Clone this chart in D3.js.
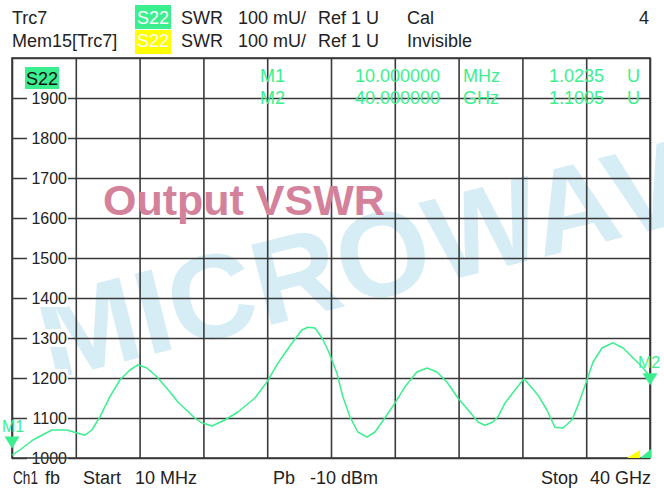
<!DOCTYPE html>
<html><head><meta charset="utf-8">
<script src="https://cdn.jsdelivr.net/npm/d3@7"></script>
<style>
html,body{margin:0;padding:0;background:#fff;}
svg{display:block;font-family:"Liberation Sans",Arial,sans-serif;}
</style></head><body>
<svg id="c" width="664" height="488"></svg>
<script>
// ---- data ----
const freqGHz = [0.01,0.50,1.32,2.51,3.45,4.14,4.58,5.02,5.52,6.14,6.77,7.40,7.90,8.46,9.09,9.91,10.41,11.47,11.91,12.54,13.35,14.17,15.24,15.99,16.68,17.55,18.18,18.56,19.00,19.44,19.81,20.06,20.38,20.75,21.19,21.69,22.26,22.76,23.38,24.01,24.64,25.39,26.02,26.65,27.27,27.96,28.71,29.22,29.65,30.16,30.47,30.91,31.54,32.10,32.60,32.98,33.54,34.04,34.54,35.11,35.49,36.05,36.43,36.99,37.68,38.31,38.94,39.50,40.0];
const swrMU = [1007,1020,1045,1070,1070,1062,1057,1070,1103,1153,1195,1220,1233,1225,1203,1165,1140,1100,1088,1080,1095,1115,1150,1190,1237,1287,1320,1327,1325,1300,1270,1245,1212,1153,1103,1065,1052,1065,1100,1137,1178,1215,1225,1215,1190,1150,1115,1090,1082,1090,1103,1137,1170,1198,1175,1157,1120,1077,1075,1095,1132,1195,1240,1275,1288,1275,1250,1228,1203];
const yTicks = [1000,1100,1200,1300,1400,1500,1600,1700,1800,1900];
const xDivisions = [0,1,2,3,4,5,6,7,8,9,10];
const header1 = ["Trc7","S22","SWR","100 mU/","Ref 1 U","Cal","4"];
const header2 = ["Mem15[Trc7]","S22","SWR","100 mU/","Ref 1 U","Invisible"];
const markerNames = ["M1","M2"];
const markerFreqText = ["10.000000","40.000000"];
const markerUnit = ["MHz","GHz"];
const markerValText = ["1.0235","1.1005"];
const markerFreq = [0.01,40];
const markerLevel = [1023.5,1182];
const footer = ["Ch1","fb","Start","10 MHz","Pb","-10 dBm","Stop","40 GHz"];
const titleText = "Output VSWR";
const watermark = "MICROWAVE";

// ---- layout ----
const svg = d3.select("#c");
const L = 12, R = 650, T = 58, B = 458;
const x = d3.scaleLinear().domain([0.01,40]).range([L,R]);
const y = d3.scaleLinear().domain([1000,2000]).range([B,T]);
const green = "#3cef8e", yellow = "#ffff00", grid = "#3a3a3a";

svg.append("rect").attr("width",664).attr("height",488).attr("fill","#fff");

// watermark
const wm = svg.append("g").attr("fill","#d6edf6").attr("font-weight","bold").attr("font-size",120);
wm.append("text").attr("transform","translate(50,380) rotate(-14)").text(watermark);
wm.append("text").attr("transform","translate(8,392) rotate(-14)").attr("text-anchor","end").text("S");

// grid
const xStep = (40-0.01)/10;
const xAxis = d3.axisBottom(x).tickValues(xDivisions.map(i=>0.01+i*xStep)).tickSize(-(B-T)).tickFormat("");
const gx = svg.append("g").attr("transform",`translate(0,${B})`).call(xAxis);
const yAxis = d3.axisLeft(y).tickValues(yTicks.concat([2000])).tickSize(-(R-L)).tickFormat("");
const gy = svg.append("g").attr("transform",`translate(${L},0)`).call(yAxis);
[gx,gy].forEach(g=>{
  g.select(".domain").remove();
  g.selectAll("line").attr("stroke",grid).attr("stroke-width",1.6);
});

// y labels with white background
const lab = svg.append("g").attr("font-size",16).attr("fill","#222");
yTicks.forEach(v=>{
  lab.append("rect").attr("x",27).attr("y",y(v)-9).attr("width",41).attr("height",18).attr("fill","#fff");
  lab.append("text").attr("x",67).attr("y",y(v)+6).attr("text-anchor","end").text(v);
});
svg.append("rect").attr("x",L).attr("y",T).attr("width",R-L).attr("height",B-T)
  .attr("fill","none").attr("stroke",grid).attr("stroke-width",1.6);

// S22 tag in plot
svg.append("rect").attr("x",25).attr("y",67).attr("width",34).attr("height",22).attr("fill",green);
svg.append("text").attr("x",26).attr("y",85).attr("font-size",18).attr("fill","#111").text("S22");

// title
svg.append("text").attr("x",103).attr("y",215).attr("font-size",43).attr("font-weight","bold")
  .attr("fill","#d4829b").text(titleText);

// marker readout
const mk = svg.append("g").attr("font-size",18).attr("fill",green);
markerNames.forEach((n,i)=>{
  const by = 82 + i*21.5;
  mk.append("text").attr("x",260).attr("y",by).text(n);
  mk.append("text").attr("x",440).attr("y",by).attr("text-anchor","end").text(markerFreqText[i]);
  mk.append("text").attr("x",463).attr("y",by).text(markerUnit[i]);
  mk.append("text").attr("x",604).attr("y",by).attr("text-anchor","end").text(markerValText[i]);
  mk.append("text").attr("x",627).attr("y",by).text("U");
});

// trace
const line = d3.line().x((d,i)=>x(freqGHz[i])).y(d=>y(d));
svg.append("path").datum(swrMU).attr("d",line).attr("fill","none")
  .attr("stroke",green).attr("stroke-width",1.5).attr("stroke-linejoin","round");

// marker triangles
markerNames.forEach((n,i)=>{
  const mx = x(markerFreq[i]), my = y(markerLevel[i]);
  svg.append("path").attr("d",`M${mx-7.5},${my-12}L${mx+7.5},${my-12}L${mx},${my}Z`).attr("fill",green);
  svg.append("text").attr("x",i===0?mx+1:mx-12).attr("y",my-17).attr("font-size",16)
    .attr("fill",green).attr("text-anchor",i===0?"middle":"start").text(n);
});

// small corner indicators
svg.append("path").attr("d",`M627,${B}L640,${B-8}L640,${B}Z`).attr("fill",yellow);
svg.append("path").attr("d",`M640,${B}L651,${B-9}L651,${B}Z`).attr("fill",green);

// header
const hx = [12,null,181,238,318,407];
[0,1].forEach(r=>{
  svg.append("rect").attr("x",135).attr("y",5+r*25).attr("width",36).attr("height",24).attr("fill",r===0?green:yellow);
});
const h = svg.append("g").attr("font-size",18).attr("fill","#222");
[header1,header2].forEach((row,r)=>{
  const by = 24 + r*23;
  row.forEach((t,i)=>{
    if(i===1){ h.append("text").attr("x",137).attr("y",by).attr("fill","#fff").text(t); return; }
    if(i===6){ h.append("text").attr("x",649).attr("y",by).attr("text-anchor","end").text(t); return; }
    h.append("text").attr("x",hx[i]).attr("y",by).text(t);
  });
});

// footer
const f = svg.append("g").attr("font-size",18).attr("fill","#222");
const fx = [13,45,83,135,273,310,541,590];
footer.forEach((t,i)=>{
  const tt = f.append("text").attr("x",fx[i]).attr("y",484).text(t);
  if(i===0) tt.attr("textLength",25).attr("lengthAdjust","spacingAndGlyphs");
});
</script>
</body></html>
